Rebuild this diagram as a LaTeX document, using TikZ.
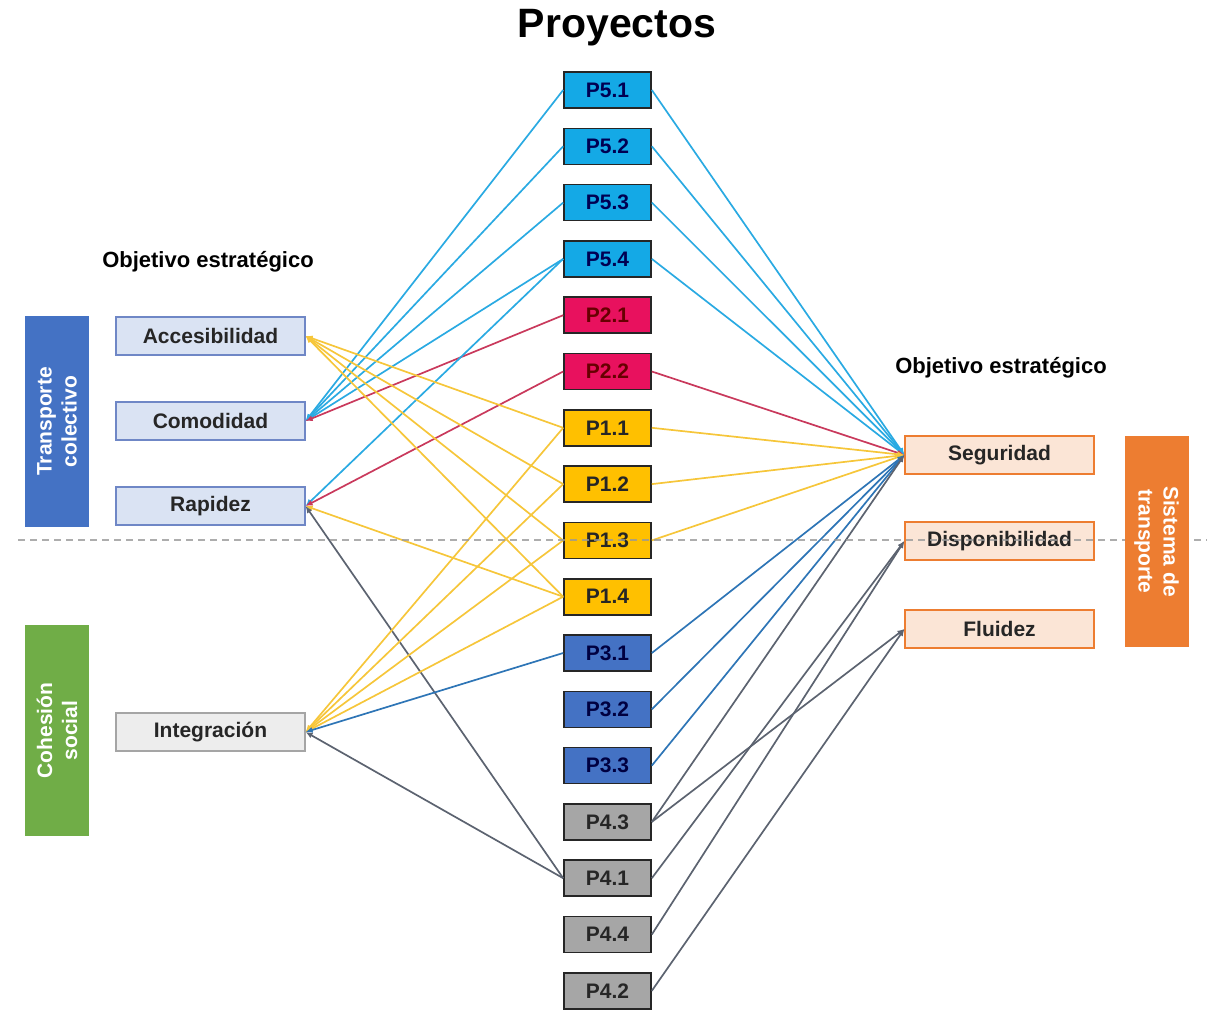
\documentclass[tikz,border=0pt]{standalone}
\usepackage{fontspec}
\setmainfont{Liberation Sans}
\usetikzlibrary{arrows.meta}
\definecolor{ProjCyan}{HTML}{14A9E6}
\definecolor{ProjRed}{HTML}{E8115E}
\definecolor{ProjAmber}{HTML}{FFC000}
\definecolor{ProjBlue}{HTML}{4472C4}
\definecolor{ProjGrey}{HTML}{A6A6A6}
\definecolor{BandGreen}{HTML}{70AD47}
\definecolor{BandOrange}{HTML}{ED7D31}
\definecolor{ObjBlueFill}{HTML}{DAE3F3}
\definecolor{ObjBlueLine}{HTML}{6F87C6}
\definecolor{ObjGreyFill}{HTML}{EDEDED}
\definecolor{ObjGreyLine}{HTML}{A5A5A5}
\definecolor{ObjPeachFill}{HTML}{FBE5D6}
\definecolor{LinkCyan}{HTML}{2AAAE2}
\definecolor{LinkRed}{HTML}{C9395C}
\definecolor{LinkAmber}{HTML}{F6C63A}
\definecolor{LinkBlue}{HTML}{2E75B6}
\definecolor{LinkGrey}{HTML}{5C6370}
\tikzset{
  >={Latex[length=7,width=6]},
  % Testi
  lbl/.style={font=\fontsize{21}{25}\selectfont\bfseries},
  % Progetti (colonna centrale)
  proj/.style={lbl,draw=black!85,line width=1.6,minimum width=87,minimum height=36,inner sep=0},
  proj 5/.style={proj,fill=ProjCyan,text=black!20!blue!40!black},
  proj 2/.style={proj,fill=ProjRed,text=red!40!black},
  proj 1/.style={proj,fill=ProjAmber,text=black!85},
  proj 3/.style={proj,fill=ProjBlue,text=blue!25!black},
  proj 4/.style={proj,fill=ProjGrey,text=black!85},
  % Obiettivi strategici
  obj/.style={lbl,line width=1.2,minimum width=189,minimum height=38,inner sep=0,text=black!85},
  obj left/.style={obj,fill=ObjBlueFill,draw=ObjBlueLine},
  obj social/.style={obj,fill=ObjGreyFill,draw=ObjGreyLine},
  obj right/.style={obj,fill=ObjPeachFill,draw=BandOrange},
  % Fasce laterali
  band/.style={lbl,text=white,align=center,minimum width=211,minimum height=64,inner sep=0},
  % Connessioni
  link/.style={->,line width=1.7}
}
\begin{document}
\begin{tikzpicture}[x=1pt,y=-1pt]
  \useasboundingbox (0,0) rectangle (1207,1012);
  \node[font=\fontsize{41}{48}\selectfont\bfseries] (title) at (617,28) {Proyectos};
  \node[lbl,font=\fontsize{22}{26}\selectfont\bfseries] (objl) at (208,262) {Objetivo estratégico};
  \node[lbl,font=\fontsize{22}{26}\selectfont\bfseries] (objr) at (1001,368) {Objetivo estratégico};
  % Progetti
  \foreach \name/\txt/\kind/\row in {p51/P5.1/5/0, p52/P5.2/5/1, p53/P5.3/5/2, p54/P5.4/5/3,
      p21/P2.1/2/4, p22/P2.2/2/5, p11/P1.1/1/6, p12/P1.2/1/7, p13/P1.3/1/8, p14/P1.4/1/9,
      p31/P3.1/3/10, p32/P3.2/3/11, p33/P3.3/3/12, p43/P4.3/4/13, p41/P4.1/4/14,
      p44/P4.4/4/15, p42/P4.2/4/16}
    \node[proj \kind] (\name) at (607.5,{90+56.3*\row}) {\txt};
  % Obiettivi
  \node[obj left] (acc) at (210.5,336) {Accesibilidad};
  \node[obj left] (com) at (210.5,421) {Comodidad};
  \node[obj left] (rap) at (210.5,506) {Rapidez};
  \node[obj social] (int) at (210.5,732) {Integración};
  \node[obj right] (seg) at (999.5,455) {Seguridad};
  \node[obj right] (dis) at (999.5,541) {Disponibilidad};
  \node[obj right] (flu) at (999.5,629) {Fluidez};
  % Connessioni a sinistra
  \foreach \src/\dst/\col in {p51/com/LinkCyan, p52/com/LinkCyan, p53/com/LinkCyan, p54/com/LinkCyan,
      p21/com/LinkRed, p54/rap/LinkCyan, p22/rap/LinkRed, p14/rap/LinkAmber, p41/rap/LinkGrey,
      p11/acc/LinkAmber, p12/acc/LinkAmber, p13/acc/LinkAmber, p14/acc/LinkAmber,
      p11/int/LinkAmber, p12/int/LinkAmber, p13/int/LinkAmber, p14/int/LinkAmber,
      p31/int/LinkBlue, p41/int/LinkGrey}
    \draw[link,\col] (\src.west) -- (\dst.east);
  % Connessioni a destra
  \foreach \src/\dst/\col in {p51/seg/LinkCyan, p52/seg/LinkCyan, p53/seg/LinkCyan, p54/seg/LinkCyan,
      p22/seg/LinkRed, p11/seg/LinkAmber, p12/seg/LinkAmber, p13/seg/LinkAmber,
      p31/seg/LinkBlue, p32/seg/LinkBlue, p33/seg/LinkBlue, p43/seg/LinkGrey,
      p41/dis/LinkGrey, p44/dis/LinkGrey, p43/flu/LinkGrey, p42/flu/LinkGrey}
    \draw[link,\col] (\src.east) -- (\dst.west);
  % Linea di separazione
  \coordinate (sepl) at (18,540);
  \coordinate (sepr) at (1207,540);
  \draw[dashed,dash pattern=on 7 off 5,line width=1.3,gray!80,opacity=0.8] (sepl) -- (sepr);
  % Fasce
  \node[band,fill=ProjBlue,rotate=90] (tc) at (57,421.5) {Transporte\\colectivo};
  \node[band,fill=BandGreen,rotate=90] (cs) at (57,730.5) {Cohesión\\social};
  \node[band,fill=BandOrange,rotate=-90] (st) at (1156.5,541.5) {Sistema de\\transporte};
\end{tikzpicture}
\end{document}
